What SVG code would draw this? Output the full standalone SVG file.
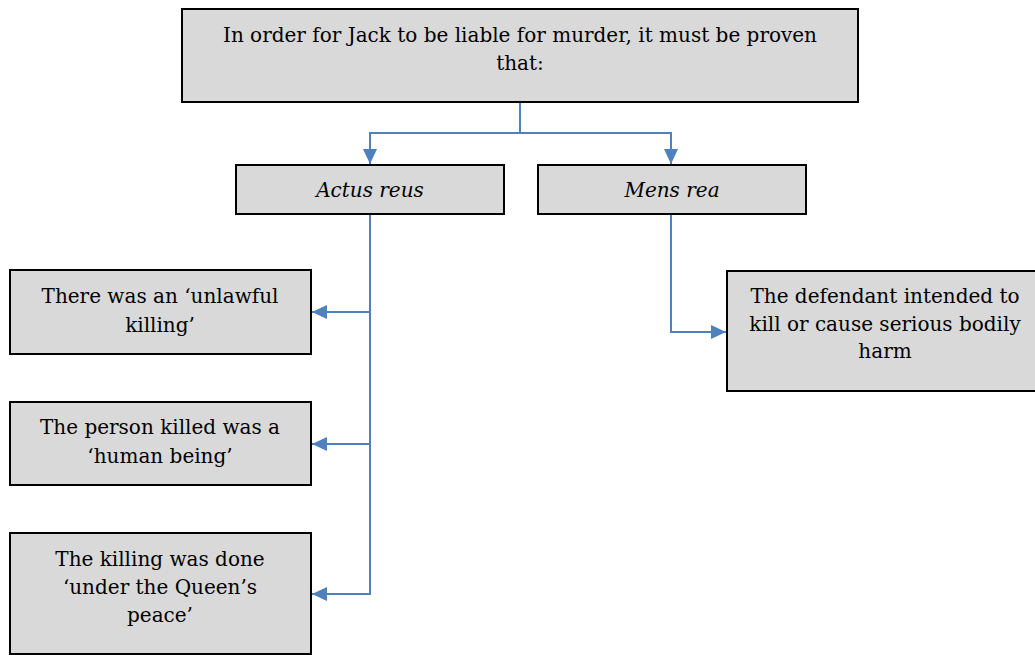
<svg xmlns="http://www.w3.org/2000/svg" width="1035" height="655" viewBox="0 0 1035 655">
<style>
.box{fill:#d9d9d9;stroke:#000;stroke-width:2}
.t{font-family:"DejaVu Serif","Liberation Serif",serif;font-size:20px;fill:#000;text-anchor:middle}
.i{font-style:italic}
.c{fill:none;stroke:#4f81bd;stroke-width:2}
</style>
<defs>
<marker id="ah" viewBox="0 0 15 14" refX="15" refY="7" markerWidth="15" markerHeight="14" markerUnits="userSpaceOnUse" orient="auto">
<path d="M0,0 L15,7 L0,14 Z" fill="#4f81bd"/>
</marker>
</defs>
<rect width="1035" height="655" fill="#fff"/>
<g id="connectors">
<path class="c" d="M520,102 V133 H370 V164" marker-end="url(#ah)"/>
<path class="c" d="M520,133 H671 V164" marker-end="url(#ah)"/>
<path class="c" d="M370,214 V594 H312" marker-end="url(#ah)"/>
<path class="c" d="M370,312 H312" marker-end="url(#ah)"/>
<path class="c" d="M370,444 H312" marker-end="url(#ah)"/>
<path class="c" d="M671,214 V332 H726" marker-end="url(#ah)"/>
</g>
<g id="top">
<rect class="box" x="182" y="9" width="676" height="93"/>
<text class="t" x="520" y="42">In order for Jack to be liable for murder, it must be proven</text>
<text class="t" x="520" y="70">that:</text>
</g>
<g id="actus">
<rect class="box" x="236" y="165" width="268" height="49"/>
<text class="t i" x="370" y="197">Actus reus</text>
</g>
<g id="mens">
<rect class="box" x="538" y="165" width="268" height="49"/>
<text class="t i" x="672" y="197">Mens rea</text>
</g>
<g id="unlawful">
<rect class="box" x="10" y="270" width="301" height="84"/>
<text class="t" x="160" y="303">There was an ‘unlawful</text>
<text class="t" x="160" y="332">killing’</text>
</g>
<g id="human">
<rect class="box" x="10" y="402" width="301" height="83"/>
<text class="t" x="160" y="434">The person killed was a</text>
<text class="t" x="160" y="463">‘human being’</text>
</g>
<g id="peace">
<rect class="box" x="10" y="533" width="301" height="121"/>
<text class="t" x="160" y="566">The killing was done</text>
<text class="t" x="160" y="594">‘under the Queen’s</text>
<text class="t" x="160" y="622">peace’</text>
</g>
<g id="intent">
<rect class="box" x="727" y="271" width="310" height="120"/>
<text class="t" x="885" y="303">The defendant intended to</text>
<text class="t" x="885" y="331">kill or cause serious bodily</text>
<text class="t" x="885" y="358">harm</text>
</g>
</svg>
